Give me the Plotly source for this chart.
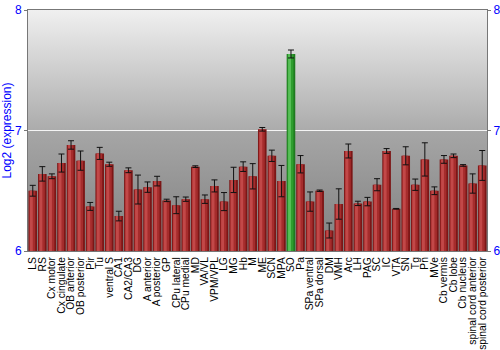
import base64
import plotly.graph_objects as go

regions = ["LS", "RS", "Cx motor", "Cx cingulate", "OB anterior", "OB posterior", "Pir", "Tu",
           "ventral S", "CA1", "CA2/CA3", "DG", "A anterior", "A posterior", "GP", "CPu lateral",
           "CPu medial", "MD", "VA/VL", "VPM/VPL", "LG", "MG", "Hb", "M", "ME", "SCN", "MPA", "SO",
           "Pa", "SPa ventral", "SPa dorsal", "DM", "VMH", "Arc", "LH", "PAG", "SC", "IC", "VTA",
           "SN", "Tg", "Pn", "MVe", "Cb vermis", "Cb lobe", "Cb nucleus", "spinal cord anterior",
           "spinal cord posterior"]
expression = [6.50, 6.64, 6.62, 6.73, 6.88, 6.75, 6.37, 6.81,
              6.72, 6.29, 6.67, 6.51, 6.53, 6.58, 6.42, 6.38,
              6.43, 6.70, 6.43, 6.54, 6.41, 6.59, 6.70, 6.62, 7.01, 6.79, 6.58, 7.635,
              6.72, 6.41, 6.50, 6.17, 6.39, 6.83, 6.395, 6.41, 6.55, 6.83, 6.35,
              6.79, 6.55, 6.76, 6.50, 6.76, 6.79, 6.71, 6.56,
              6.71]
errors = [0.045, 0.06, 0.02, 0.075, 0.035, 0.08, 0.033, 0.05,
          0.017, 0.04, 0.02, 0.12, 0.043, 0.04, 0.01, 0.07,
          0.018, 0.007, 0.035, 0.05, 0.075, 0.105, 0.04, 0.105, 0.015, 0.047, 0.13, 0.033,
          0.072, 0.08, 0.006, 0.062, 0.126, 0.058, 0.018, 0.035, 0.05, 0.02, 0.003,
          0.075, 0.047, 0.138, 0.032, 0.032, 0.015, 0.007, 0.08,
          0.124]
highlight = "SO"

y_ticks = [6, 7, 8]
y_range = [6, 8]
y_title = "Log2 (expression)"

base_cols = ["#1f7a1f" if r == highlight else "#7c1616" for r in regions]
mid_cols = ["#2e9e2e" if r == highlight else "#a52c2c" for r in regions]
light_cols = ["#58bf58" if r == highlight else "#c24848" for r in regions]

fig = go.Figure()
fig.add_trace(go.Bar(x=regions, y=expression, width=0.9, offset=-0.45,
                     marker=dict(color=base_cols, line=dict(width=0)), hoverinfo="skip"))
fig.add_trace(go.Bar(x=regions, y=expression, width=0.62, offset=-0.36,
                     marker=dict(color=mid_cols, line=dict(width=0)), hoverinfo="skip"))
fig.add_trace(go.Bar(x=regions, y=expression, width=0.3, offset=-0.3,
                     marker=dict(color=light_cols, line=dict(width=0)), hoverinfo="skip"))
fig.add_trace(go.Scatter(x=regions, y=expression, mode="markers",
                         marker=dict(size=1, color="rgba(0,0,0,0)"),
                         error_y=dict(type="data", array=errors, color="#111111",
                                      thickness=1, width=3)))
fig.add_trace(go.Scatter(x=regions, y=expression, yaxis="y2", mode="markers",
                         marker=dict(size=1, color="rgba(0,0,0,0)"), hoverinfo="skip"))

svg = ('<svg xmlns="http://www.w3.org/2000/svg" width="10" height="200" preserveAspectRatio="none">'
       '<defs><linearGradient id="g" x1="0" y1="0" x2="0" y2="1">'
       '<stop offset="0" stop-color="#f0f0f0"/>'
       '<stop offset="0.5" stop-color="#ababab"/>'
       '<stop offset="0.5" stop-color="#a6a6a6"/>'
       '<stop offset="1" stop-color="#808080"/>'
       '</linearGradient></defs><rect width="10" height="200" fill="url(#g)"/></svg>')
src = "data:image/svg+xml;base64," + base64.b64encode(svg.encode()).decode()

fig.update_layout(
    width=500, height=350,
    margin=dict(l=28, r=13, t=10, b=99),
    paper_bgcolor="white", plot_bgcolor="rgba(0,0,0,0)",
    barmode="overlay", showlegend=False,
    font=dict(family="Liberation Sans, Arial, sans-serif"),
    images=[dict(source=src, xref="paper", yref="paper", x=0, y=1, sizex=1, sizey=1,
                 sizing="stretch", layer="below")],
    xaxis=dict(type="category", tickmode="array", tickvals=regions, ticktext=regions,
               tickangle=-90, tickfont=dict(size=10.3, color="black"), automargin=False,
               ticks="", ticklabelstandoff=1, showline=True, linecolor="#777777", mirror=True,
               showgrid=False, range=[-0.5, len(regions) - 0.5]),
    yaxis=dict(range=y_range, tickvals=y_ticks, tickfont=dict(size=12, color="#0000ff"),
               title=dict(text=y_title, font=dict(size=12, color="#0000ff"), standoff=0),
               automargin=False,
               showgrid=True, gridcolor="#f4f4f4", gridwidth=1.2, zeroline=False,
               showline=True, linecolor="#777777", ticks="outside", ticklen=3,
               tickcolor="#777777"),
    yaxis2=dict(range=y_range, tickvals=y_ticks, overlaying="y", side="right", anchor="x",
                tickfont=dict(size=12, color="#0000ff"), showgrid=False, zeroline=False,
                automargin=False,
                showline=True, linecolor="#777777", ticks="outside", ticklen=3,
                tickcolor="#777777"),
)

fig.write_html("out.html")
